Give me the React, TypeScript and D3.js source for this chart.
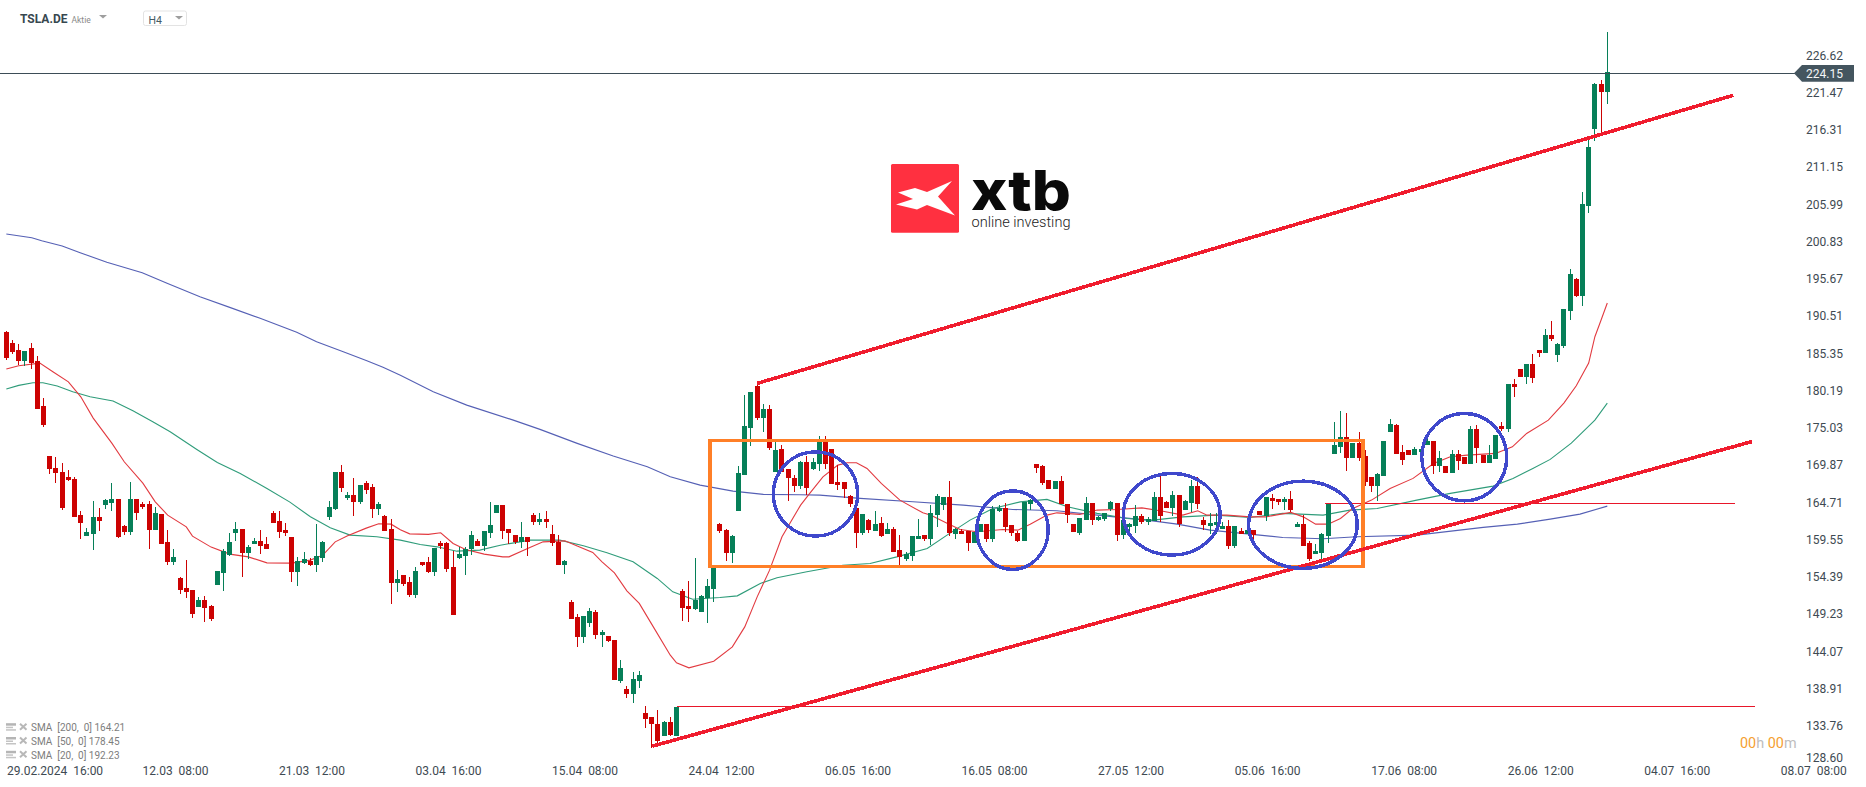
import React from "react";
import * as d3 from "d3";

// TSLA.DE H4 candles
const opens = [
188.31,186.78,185.81,184.29,186.09,184.29,178.05,171.12,169.46,168.91,
168.21,167.94,162.95,160.04,160.32,162.67,164.34,164.61,165.17,161.43,
160.59,165.17,164.47,164.47,160.87,163.09,159.21,156.44,154.22,152.83,
152.56,150.20,151.17,150.34,153.25,154.91,157.41,160.46,161.01,157.68,
158.93,159.35,158.93,163.23,162.12,160.87,159.90,155.05,156.30,156.58,
156.02,156.99,162.67,163.78,168.91,165.31,165.72,164.75,167.38,166.83,
163.78,162.81,161.01,153.53,154.64,153.67,151.86,156.44,156.44,155.05,
159.07,159.07,155.74,156.99,157.27,158.24,159.35,158.65,160.45,163.23,
164.33,161.01,160.18,159.21,159.90,162.95,161.98,162.39,160.32,159.21,
156.02,150.89,148.82,146.04,147.98,149.51,146.32,146.18,145.63,139.95,
138.84,138.15,139.95,135.51,134.96,133.99,132.33,134.27,132.33,152.42,
150.34,149.92,149.51,151.45,152.70,161.70,160.87,157.68,163.50,168.49,
175.00,180.82,176.39,177.64,168.91,172.09,169.32,168.08,166.97,170.29,
169.32,170.01,173.06,172.09,167.52,167.52,165.58,163.92,160.45,162.25,
160.73,161.84,160.31,161.01,158.10,156.85,157.27,159.62,160.18,159.62,
162.95,164.33,165.44,160.31,160.73,160.73,159.07,160.59,161.70,159.62,
163.50,163.92,161.56,160.45,159.34,164.47,170.01,169.74,167.80,166.55,
167.66,164.47,161.70,160.45,162.25,164.61,162.25,162.39,163.78,164.61,
160.18,161.28,161.42,162.81,161.98,162.12,165.44,164.75,163.92,165.72,
163.64,164.61,166.96,162.25,161.42,161.56,161.01,161.42,158.65,160.73,
160.31,160.87,163.50,162.81,165.30,165.16,164.75,165.16,161.28,161.70,
159.07,157.54,157.68,160.04,171.40,172.37,173.75,170.84,172.92,171.12,
168.21,166.96,168.35,174.45,175.42,171.67,171.95,171.26,171.67,172.64,
173.20,169.74,169.74,168.77,171.40,170.98,170.01,174.86,171.26,170.15,
170.70,175.28,174.86,181.10,183.18,182.07,183.87,185.81,185.39,187.89,
185.12,186.36,191.22,195.65,193.30,205.77,216.43,222.67,221.56];

const highs = [
188.44,187.20,186.64,185.67,186.78,184.98,179.16,171.12,170.99,170.15,
169.18,168.21,163.50,161.15,164.89,163.92,165.17,167.38,165.17,161.56,
167.52,165.17,164.75,164.89,164.06,163.09,160.87,158.24,154.36,156.71,
152.56,151.59,151.73,150.48,155.19,158.24,160.46,161.98,161.01,158.79,
159.76,160.87,159.90,163.50,163.50,161.84,159.90,157.13,157.82,156.99,
161.70,159.35,164.89,168.91,169.88,166.14,168.08,167.11,167.66,167.24,
164.75,162.95,162.40,155.33,154.64,154.36,155.74,156.44,157.13,158.38,
159.35,159.21,157.96,158.51,158.51,160.73,159.62,160.73,164.75,164.33,
164.33,161.01,160.18,161.98,159.90,163.23,163.23,163.50,161.56,160.18,
156.71,151.17,149.23,148.95,150.06,149.79,147.01,146.18,145.63,142.86,
139.26,141.19,141.33,136.48,134.96,135.93,134.41,134.96,136.35,152.70,
153.80,156.99,151.86,154.08,155.74,161.84,161.01,160.18,169.74,179.58,
179.99,181.10,178.33,178.19,173.20,172.65,169.32,168.49,170.43,171.12,
170.84,173.89,173.89,172.09,169.87,167.52,165.72,164.33,163.09,162.39,
163.50,162.67,161.84,161.28,160.18,157.82,160.04,162.39,160.18,164.33,
165.86,165.44,167.66,161.15,161.01,160.73,160.59,161.70,161.70,164.19,
164.33,164.61,161.56,160.73,164.75,165.17,170.01,169.87,167.80,167.66,
168.35,164.47,161.70,162.53,165.44,164.61,162.81,163.22,164.89,164.61,
162.25,161.84,164.33,163.09,162.67,166.13,168.49,164.89,166.27,165.72,
165.02,167.80,168.21,162.67,163.22,163.22,161.98,162.25,161.42,161.14,
160.87,160.87,163.50,165.44,165.86,165.16,165.44,166.27,161.98,162.95,
159.34,158.93,160.45,164.47,175.83,177.36,177.08,172.92,174.45,171.95,
168.21,168.77,173.20,176.25,175.55,172.64,171.95,172.37,172.37,173.61,
173.20,171.81,169.74,171.95,171.95,170.98,175.28,175.42,171.26,172.64,
174.03,175.83,181.10,181.79,183.18,183.87,185.26,185.81,188.72,189.83,
186.78,191.49,197.03,195.79,207.70,215.33,222.81,223.22,229.87];

const lows = [
184.43,185.26,183.73,183.60,183.18,177.64,175.14,168.63,167.38,163.64,
167.66,162.67,159.62,160.04,158.10,160.73,163.78,163.50,159.76,160.18,
160.18,162.26,163.78,158.24,160.87,158.93,156.02,156.02,152.00,151.45,
148.68,150.20,148.12,148.26,153.25,152.42,157.27,159.35,154.36,156.85,
158.93,157.55,158.24,161.84,159.76,160.04,153.67,153.11,156.16,155.88,
155.05,156.44,162.26,163.64,166.14,165.03,162.81,164.47,165.86,162.53,
162.95,160.73,150.62,152.28,153.11,151.59,151.45,155.88,154.91,154.50,
158.24,155.05,149.09,156.85,154.64,157.41,158.65,157.96,159.76,163.23,
159.62,158.93,158.93,158.38,157.27,161.56,161.56,161.15,158.65,156.02,
154.77,148.54,144.66,145.21,147.43,145.77,144.66,145.35,140.09,139.67,
137.59,136.90,138.98,133.44,130.66,131.36,132.33,132.33,132.33,148.26,
148.12,149.79,149.51,147.98,150.89,160.45,156.58,156.30,163.50,168.49,
172.51,176.11,174.45,171.96,168.91,168.91,164.89,166.14,166.55,165.72,
169.18,169.04,169.32,167.24,166.41,165.30,164.06,158.37,160.18,160.45,
160.73,159.90,160.31,157.82,156.02,156.57,156.57,159.62,159.34,158.79,
161.28,163.64,160.04,159.62,160.31,157.96,159.07,160.59,159.20,159.20,
163.36,160.59,160.04,159.20,159.34,163.64,168.77,167.10,166.55,166.55,
164.47,161.84,160.59,160.18,162.25,161.56,162.12,162.12,163.50,159.34,
159.62,160.45,160.45,161.70,161.56,162.12,161.98,163.92,162.81,161.28,
163.64,163.36,163.78,160.87,160.31,160.31,161.01,158.23,158.37,160.31,
160.31,159.34,162.95,162.11,163.78,164.33,163.64,163.36,161.28,158.65,
156.57,157.54,156.85,159.07,171.40,171.54,169.04,170.84,170.43,166.96,
166.13,164.89,168.35,174.45,171.40,169.87,171.26,171.26,171.54,172.64,
168.63,168.90,168.77,168.77,169.18,170.01,170.01,170.15,170.15,170.15,
170.70,174.58,174.45,179.30,182.07,181.10,181.24,184.84,185.39,187.06,
184.15,186.09,189.97,193.16,191.91,204.80,214.77,215.74,219.90];

const closes = [
184.70,185.53,184.29,185.67,184.01,177.64,175.42,169.32,168.77,163.92,
167.80,162.67,161.84,160.59,162.67,162.12,165.03,165.17,159.90,160.59,
165.17,163.23,164.06,160.87,163.23,158.93,156.44,157.13,152.56,152.28,
149.23,151.17,150.06,148.54,155.19,157.96,159.21,161.01,157.68,158.52,
159.35,158.65,158.24,161.84,160.59,160.46,155.05,156.58,156.85,156.02,
157.27,159.21,164.06,168.91,166.69,165.72,164.75,167.11,166.41,163.78,
164.47,160.73,153.53,154.08,153.39,151.86,155.19,156.02,155.05,158.38,
158.65,155.47,149.09,157.54,158.24,160.18,158.65,160.73,161.56,164.33,
160.73,160.45,159.21,159.90,159.21,161.98,162.39,161.98,159.07,156.02,
156.58,148.54,146.04,148.95,149.65,146.32,146.74,145.49,140.09,141.75,
138.15,140.23,140.78,134.68,133.99,131.63,134.27,132.47,136.35,150.06,
149.92,151.17,151.73,153.11,155.74,160.73,157.68,160.04,168.77,175.28,
179.99,176.39,177.64,172.23,171.96,168.91,168.08,166.97,170.29,166.69,
170.29,173.06,170.01,167.24,167.10,166.55,164.47,160.45,163.09,160.87,
161.70,160.04,161.01,157.82,157.13,157.54,160.04,160.04,159.62,163.22,
165.58,165.44,160.45,161.01,160.31,159.07,160.59,161.70,159.62,163.78,
163.92,161.28,160.45,159.34,164.75,165.03,169.46,167.38,166.55,167.66,
164.47,162.95,160.59,162.53,164.61,162.25,162.67,163.22,164.75,160.18,
162.25,161.70,162.81,161.98,162.39,165.44,162.81,163.92,165.72,161.70,
164.89,166.96,164.47,161.56,161.84,161.98,161.42,158.65,161.42,160.31,
160.87,160.17,162.95,165.44,164.89,164.75,165.16,163.64,161.70,158.65,
156.85,157.96,160.31,164.47,172.64,173.75,170.84,172.92,170.84,167.52,
166.96,168.63,173.20,175.55,171.40,170.57,171.26,172.09,172.09,173.20,
169.74,170.84,168.77,171.40,170.43,170.01,174.86,172.23,170.15,171.26,
174.03,174.86,181.10,180.69,182.07,183.87,181.93,185.39,187.89,187.33,
186.64,191.49,196.34,193.30,206.04,213.94,222.67,221.56,224.33];

// moving averages: candle index + value
const sma20Idx = [0,2,5.4,7.5,10,12,14,17,19,22,24,26,29,30,33,36,39,42,46,49,51,53,55,58,60,62,63.5,65,68,70,72,74,77,80,81,84,86.5,90,92,94.5,96,98,100,102,104,107,108,110,114,117,119,121,123,125,128,129.5,131.6,134,135.5,137,138.7,141,144,147.7,149,151.6,153.7,156.4,160.6,163,165,167.7,169.3,173,175.8,179,183,186.4,189.6,192,193.5,196.7,200.4,203,207,209,211,213,215,217,220,223,226.7,230,232.7,235.4,240,242.7,245,248.5,251,253,255,256,257,258];
const sma20Val = [183.18,183.64,184.01,182.81,181.42,179.34,176.39,172.93,170.34,167.39,164.80,162.95,161.33,160.04,158.52,157.55,157.17,156.34,156.30,156.72,157.41,159.25,160.08,161.15,161.75,161.70,160.94,160.36,160.28,160.50,159.03,158.20,157.55,157.17,157.17,158.34,159.25,159.39,158.66,157.78,156.48,154.96,152.46,150.72,147.85,143.55,142.49,141.80,142.72,144.70,147.47,151.63,155.33,159.95,164.34,166.00,168.26,169.88,170.20,170.20,169.42,167.34,165.03,163.27,162.95,161.84,160.97,160.64,160.97,160.87,161.70,162.95,163.27,163.05,163.65,163.74,163.96,163.50,162.95,163.55,162.95,162.95,162.71,162.71,163.33,162.71,161.70,161.70,162.49,163.88,165.03,166.65,168.04,170.11,171.03,171.26,171.50,172.41,174.27,176.11,178.47,180.87,184.01,187.66,189.97,192.33];

const sma50Idx = [0,2,4.3,5.9,8.2,10.7,13.5,17.2,20.4,23.6,26.4,30.7,34,37.7,42,45.7,49,52.2,55.4,59.7,63.5,66.7,69.4,72.6,76.3,79.6,84.4,89.2,93,96.8,101,104.9,107.4,110.6,115,117.8,121.5,124.2,129,134.8,139.2,143.5,148.4,151.6,155.3,159,163.4,167.7,171,175.8,180.6,184.8,189.6,195,200.4,205.7,212.2,216.5,220.9,227.3,232.7,239.6,242.8,246,248.8,252.2,256,258];
const sma50Val = [180.41,180.92,181.28,181.28,180.83,180.04,179.34,178.75,177.40,175.88,174.49,172.05,170.25,168.73,166.65,164.75,162.72,161.19,160.18,159.95,159.49,158.89,158.56,157.96,158.10,158.79,159.49,159.49,158.70,157.73,156.48,154.18,152.33,151.31,151.55,151.77,153.49,154.27,155.10,156.02,156.26,157.17,158.34,160.18,162.26,163.88,164.79,165.13,164.10,163.19,162.49,162.26,162.71,162.95,162.63,163.19,162.95,163.65,163.88,165.03,165.96,166.97,168.04,169.42,170.67,172.93,176.11,178.47];

const sma200Idx = [0,4.1,5.7,9,11.9,16.2,21.9,25.9,31.2,36,40.9,46.8,50,54.3,58.1,60.7,63.5,68.8,74.2,81.7,86,92,97.8,103.3,107,111.8,117.1,122,127.9,131.1,137.6,146.1,154.2,162.2,169.3,175.8,183.8,188.7,194,200.4,205.7,212.2,217.6,227.3,238,243.5,248.8,253.6,258];
const sma200Val = [201.89,201.37,200.96,200.22,199.30,197.97,196.52,195.06,193.20,191.73,190.21,188.27,186.96,185.58,184.33,183.42,182.31,180.04,178.19,176.11,174.83,172.89,171.13,169.64,168.26,167.11,166.28,165.82,165.77,165.72,165.27,164.80,164.34,163.74,163.55,162.95,162.26,161.70,160.87,160.32,159.86,159.67,159.95,160.18,161.25,161.70,162.40,163.09,164.20];

const priceLabels = ["226.62","221.47","216.31","211.15","205.99","200.83","195.67","190.51","185.35","180.19","175.03","169.87","164.71","159.55","154.39","149.23","144.07","138.91","133.76","128.60"];
const timeLabels = ["29.02.2024  16:00","12.03  08:00","21.03  12:00","03.04  16:00","15.04  08:00","24.04  12:00","06.05  16:00","16.05  08:00","27.05  12:00","05.06  16:00","17.06  08:00","26.06  12:00","04.07  16:00","08.07  08:00"];
const legendLabels = ["SMA  [200,  0] 164.21","SMA  [50,  0] 178.45","SMA  [20,  0] 192.23"];

const lastPrice = 224.15;

// drawn annotations, in candle index / price
const trendLines = [[121, 181.2, 278.3, 221.1],[104.1, 130.95, 281.3, 173.14]];
const levelLines = [[108, 281.8, 136.42],[212.5, 278.6, 164.57]];
const rangeBox = [113.4, 218.6, 173.27, 155.82];
const circles = [
  [123.6, 137.2, 171.72, 160.04],
  [156.4, 167.9, 166.32, 155.43],
  [180, 195.6, 168.73, 157.41],
  [200.2, 217.7, 167.66, 155.57],
  [228.1, 241.8, 177.04, 164.93],
];

const GREEN = "#067f58";
const RED = "#cc0202";
const FONT = "Roboto, sans-serif";

const x = d3.scaleLinear().domain([0, 258]).range([6.33, 1607.3]);
const y = d3.scaleLinear().domain([224.15, 138.91]).range([73.3, 688.7]);

// snap a thin horizontal line onto one pixel row
const row = (p: number) => Math.floor(y(p)) + 0.5;

function smaPath(idx: number[], val: number[]) {
  const line = d3.line<number>().x((d) => x(d)).y((_, i) => y(val[i]));
  return line(idx) as string;
}

export default function App() {
  return (
    <svg width={1866} height={787} style={{ position: "absolute", left: 0, top: 0, display: "block", background: "#fff", fontFamily: FONT }}>
      {/* moving averages sit under the candles */}
      <path d={smaPath(sma200Idx, sma200Val)} fill="none" stroke="#5560b5" strokeWidth={1.1} />
      <path d={smaPath(sma50Idx, sma50Val)} fill="none" stroke="#2f9c7a" strokeWidth={1.1} />
      <path d={smaPath(sma20Idx, sma20Val)} fill="none" stroke="#e23a40" strokeWidth={1.1} />

      <g shapeRendering="crispEdges">
        {opens.map((o, i) => {
          const c = closes[i];
          const left = Math.round(x(i) - 2.5);
          const top = Math.round(y(Math.max(o, c)));
          const bottom = Math.round(y(Math.min(o, c)));
          const color = c > o ? GREEN : RED;
          return (
            <g key={i} fill={color}>
              <rect x={left + 2} y={Math.round(y(highs[i]))} width={1} height={Math.max(1, Math.round(y(lows[i])) - Math.round(y(highs[i])))} />
              <rect x={left} y={top} width={5} height={Math.max(1, bottom - top)} />
            </g>
          );
        })}
      </g>

      {/* last price line */}
      <line x1={0} x2={1796} y1={row(lastPrice)} y2={row(lastPrice)} stroke="#3d4d57" strokeWidth={1} shapeRendering="crispEdges" />

      {/* annotations */}
      <g shapeRendering="crispEdges">
        {levelLines.map((l, i) => (
          <line key={i} x1={x(l[0])} x2={x(l[1])} y1={row(l[2])} y2={row(l[2])} stroke="#e8162a" strokeWidth={1} />
        ))}
        <rect x={x(rangeBox[0])} y={y(rangeBox[2])} width={x(rangeBox[1]) - x(rangeBox[0])} height={y(rangeBox[3]) - y(rangeBox[2])} fill="none" stroke="#ff7f27" strokeWidth={3.4} />
        {trendLines.map((l, i) => (
          <line key={i} x1={x(l[0])} y1={y(l[1])} x2={x(l[2])} y2={y(l[3])} stroke="#f01c2e" strokeWidth={3.6} />
        ))}
        {circles.map((e, i) => (
          <ellipse key={i} cx={(x(e[0]) + x(e[1])) / 2} cy={(y(e[2]) + y(e[3])) / 2} rx={(x(e[1]) - x(e[0])) / 2} ry={(y(e[3]) - y(e[2])) / 2} fill="none" stroke="#3f48cc" strokeWidth={3.4} />
        ))}
      </g>

      {/* price axis */}
      <g fontSize={12} fill="#3e4a52">
        {priceLabels.map((p) => (
          <text key={p} x={1806} y={Math.min(y(+p), 757.7)} dy="0.35em">{p}</text>
        ))}
      </g>
      <path d="M1794,73.3 L1802,65 L1854,65 L1854,81.7 L1802,81.7 Z" fill="#44555f" />
      <text x={1806} y={y(lastPrice)} dy="0.38em" fontSize={12} fill="#f4f6f7">{lastPrice.toFixed(2)}</text>

      {/* time axis */}
      <g fontSize={12} fill="#3e4a52">
        {timeLabels.map((t, i) => (
          i === 0
            ? <text key={t} x={7} y={775} xmlSpace="preserve">{t}</text>
            : <text key={t} x={x(5.26 + 22 * i)} y={775} textAnchor="middle" xmlSpace="preserve">{t}</text>
        ))}
      </g>

      {/* legend */}
      <g>
        {legendLabels.map((t, i) => {
          const ly = 727.7 + i * 13.8;
          return (
            <g key={t}>
              <rect x={6} y={ly - 4.5} width={10} height={2.5} fill="#b5b5b5" />
              <rect x={6} y={ly - 1} width={7} height={1.5} fill="#c4c4c4" />
              <rect x={6} y={ly + 1.5} width={10} height={1.5} fill="#c4c4c4" />
              <path d={`M20,${ly - 4} L26.5,${ly + 2} M26.5,${ly - 4} L20,${ly + 2}`} stroke="#b8b8b8" strokeWidth={2} />
              <text x={31} y={ly} dy="0.35em" fontSize={10} fill="#7d7d7d" xmlSpace="preserve">{t}</text>
            </g>
          );
        })}
      </g>

      {/* countdown */}
      <text x={1740} y={742.5} dy="0.35em" fontSize={14.4} xmlSpace="preserve">
        <tspan fill="#f5a030">00</tspan>
        <tspan fill="#bdbdbd">h </tspan>
        <tspan fill="#f5a030">00</tspan>
        <tspan fill="#bdbdbd">m</tspan>
      </text>

      {/* header */}
      <text x={20} y={23} fontSize={12} fontWeight={700} fill="#37474f">TSLA.DE</text>
      <text x={71.5} y={22.5} fontSize={8.5} fill="#8a8a8a">Aktie</text>
      <path d="M99,15 L107,15 L103,18.5 Z" fill="#9e9e9e" />
      <rect x={143.5} y={11} width={43} height={14.5} rx={2} fill="#fff" stroke="#e3e3e3" />
      <text x={148.5} y={24} fontSize={10.5} fill="#455a64">H4</text>
      <path d="M175,16 L183,16 L179,19.5 Z" fill="#9e9e9e" />

      {/* xtb logo */}
      <rect x={891} y={164} width={68} height={68.7} rx={1.5} fill="#ff3040" />
      <path d="M898,192.5 L915,188 L927,192 L952,181 L938,196.5 L955,215.5 L927,205 L917,209.5 L896,204.5 L913,199 Z" fill="#fff" />
      <text x={971} y={210} fontFamily="Inter, sans-serif" fontSize={55} fontWeight={800} fill="#0a0a0a" textLength={100} lengthAdjust="spacingAndGlyphs">xtb</text>
      <text x={971.5} y={226.5} fontSize={15} fill="#222" fontWeight={300} textLength={99} lengthAdjust="spacingAndGlyphs">online investing</text>
    </svg>
  );
}
